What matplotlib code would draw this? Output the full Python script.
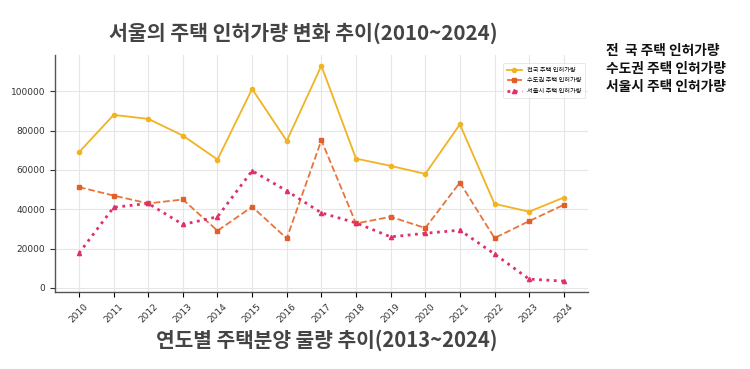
import matplotlib
matplotlib.use("Agg")
import matplotlib.pyplot as plt

years = [2010, 2011, 2012, 2013, 2014, 2015, 2016, 2017, 2018, 2019, 2020, 2021, 2022, 2023, 2024]
nation = [69000, 88000, 86000, 77500, 65300, 101200, 74800, 113000, 65800, 62100, 58000, 83200, 42800, 38800, 46000]
capital = [51300, 47000, 43000, 45000, 29100, 41300, 25200, 75100, 32800, 36200, 30500, 53600, 25400, 34000, 42300]
seoul = [17700, 41000, 43000, 32300, 36200, 59600, 49400, 38200, 33100, 26000, 27800, 29400, 17300, 4500, 3500]
labels = ["전국 주택 인허가량", "수도권 주택 인허가량", "서울시 주택 인허가량"]
title_top = "서울의 주택 인허가량 변화 추이(2010~2024)"
title_bottom = "연도별 주택분양 물량 추이(2013~2024)"
side_texts = ["전  국 주택 인허가량", "수도권 주택 인허가량", "서울시 주택 인허가량"]

plt.rcParams['font.family'] = ['Noto Sans CJK KR', 'DejaVu Sans']

fig = plt.figure(figsize=(7.5, 3.69), dpi=100)
ax = fig.add_axes([0.073, 0.209, 0.711, 0.642])

ax.plot(years, nation, color='#f0b323', linestyle='-', marker='o', markersize=3, linewidth=1.3, label=labels[0])
ax.plot(years, capital, color='#e8743b', linestyle='--', marker='s', markersize=3,
        markerfacecolor='#e0602a', markeredgecolor='#e0602a', linewidth=1.3, label=labels[1])
ax.plot(years, seoul, color='#e0306a', linestyle=':', marker='^', markersize=3, linewidth=2.0, label=labels[2])

ax.set_xticks(years)
ax.set_xticklabels([str(y) for y in years], rotation=45, fontsize=6.5, color='#333333', family='DejaVu Sans')
ax.tick_params(axis='y', labelsize=6.5, colors='#333333')
for t in ax.get_yticklabels():
    t.set_family('DejaVu Sans')
ax.grid(True, color='#e6e6e6', linewidth=0.8)
ax.set_axisbelow(True)
for s in ['top', 'right']:
    ax.spines[s].set_visible(False)
for s in ['left', 'bottom']:
    ax.spines[s].set_color('#555555')
    ax.spines[s].set_linewidth(1.0)

leg = ax.legend(loc='upper right', fontsize=4.5, frameon=True, borderpad=0.5, handlelength=2.5,
                labelspacing=0.4, bbox_to_anchor=(1.0, 0.98))
leg.get_frame().set_edgecolor('#dddddd')
leg.get_frame().set_linewidth(0.6)

fig.text(0.405, 0.910, title_top, fontsize=14.8, fontweight='bold', color='#444444', ha='center', va='center')
fig.text(0.435, 0.078, title_bottom, fontsize=14.6, fontweight='bold', color='#444444', ha='center', va='center')
for i, s in enumerate(side_texts):
    fig.text(0.808, 0.862 - i * 0.049, s, fontsize=9.9, fontweight='bold', color='#111111', ha='left', va='center')

fig.savefig('out.png', dpi=100)
